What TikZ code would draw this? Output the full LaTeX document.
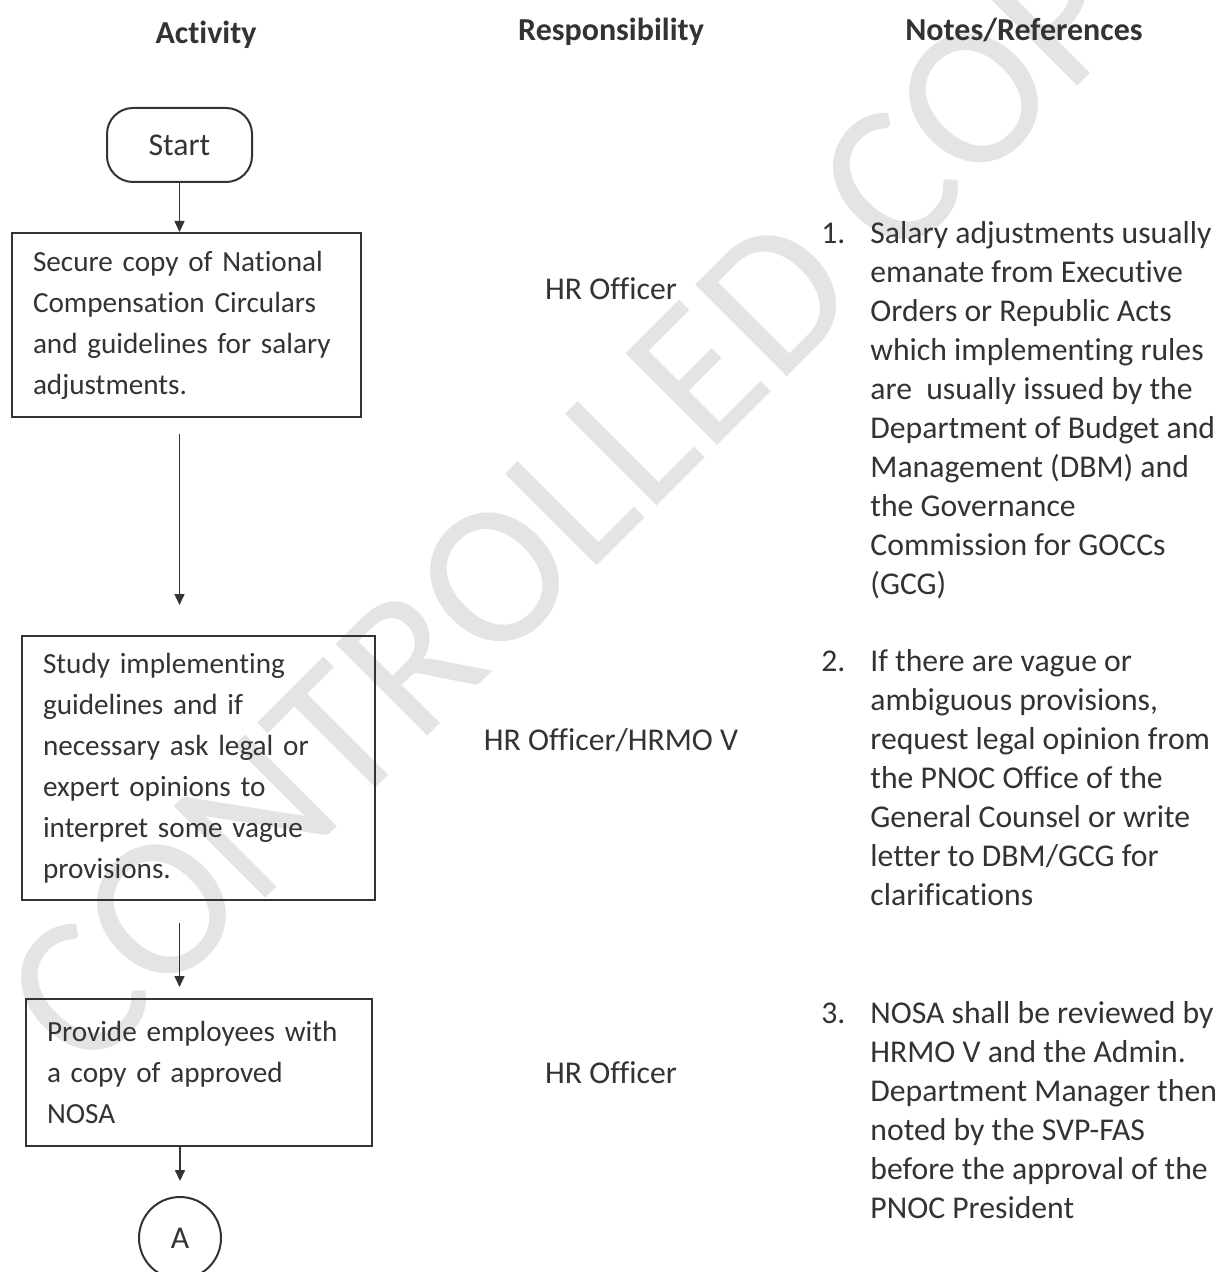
\documentclass[tikz,border=0pt]{standalone}
\usepackage{fontspec}
\setmainfont{Carlito}[Ligatures={NoCommon,NoContextual}]
\usetikzlibrary{arrows.meta,calc}
\definecolor{ink}{HTML}{333333}
\definecolor{wmgray}{HTML}{E4E4E4}
\begin{document}
\begin{tikzpicture}[x=0.5pt,y=-0.5pt,
  every node/.style={text=ink, inner sep=0pt},
  hdr/.style={font=\fontsize{16}{19.5}\selectfont\bfseries},
  resp/.style={font=\fontsize{15.85}{19.5}\selectfont},
  notes/.style={anchor=base west, font=\fontsize{15.85}{19.5}\selectfont},
  stepbox/.style={draw=ink, line width=1pt, align=left, inner xsep=10.5pt,
    inner ysep=0pt, font=\fontsize{14.6}{20.5}\selectfont},
  terminal/.style={draw=ink, line width=1pt, rounded corners=13pt,
    minimum width=72.5pt, minimum height=37pt, font=\fontsize{15.85}{19.5}\selectfont},
  connector/.style={draw=ink, line width=1pt, circle, minimum size=41pt,
    font=\fontsize{15.85}{19.5}\selectfont},
  arr/.style={draw=ink, line width=0.8pt, -{Triangle[length=5.5pt,width=5pt]}},
  watermark/.style={text=wmgray, font=\fontsize{101}{105}\selectfont}]

% page
\fill[white] (0,0) rectangle (1225,1272);
\useasboundingbox (0,0) rectangle (1225,1272);

% watermark behind everything
\node[watermark, rotate=45] (wmark) at (602,470) {CONTROLLED COPY};

% column headings
\node[hdr] (hact) at (206,35) {Activity};
\node[hdr] (hresp) at (611,32) {Responsibility};
\node[hdr] (hnotes) at (1024,30) {Notes/References};

% activity flow
\node[terminal] (start) at (179.5,145) {Start};
\node[stepbox, text width=153.5pt, minimum height=92pt] (s1) at (186.5,325)
  {Secure copy of National\\Compensation Circulars\\and guidelines for salary\\adjustments.};
\node[stepbox, text width=155.5pt, minimum height=132pt] (s2) at (198.5,768)
  {Study implementing\\guidelines and if\\necessary ask legal or\\expert opinions to\\interpret some vague\\provisions.};
\node[stepbox, text width=152pt, minimum height=73.5pt] (s3) at (199,1072.5)
  {Provide employees with\\a copy of approved\\NOSA};
\node[connector] (conA) at (180,1238) {A};

\draw[arr] (start.south) -- (start.south |- s1.north);
\draw[arr, shorten <=8pt, shorten >=15pt] (s1.south -| start.south) -- (s2.north -| start.south);
\draw[arr, shorten <=11pt, shorten >=5.5pt] (s2.south -| start.south) -- (s3.north -| start.south);
\draw[arr, shorten >=7.5pt] (s3.south -| conA.north) -- (conA.north);

% responsibility
\node[resp] (r1) at (611,289) {HR Officer};
\node[resp] (r2) at (611,740) {HR Officer/HRMO V};
\node[resp] (r3) at (611,1073) {HR Officer};

% notes
\node[notes] (n1) at (821,244) {\begin{tabular}[t]{@{}p{24.5pt}@{}l@{}}
1.&Salary adjustments usually\\
&emanate from Executive\\
&Orders or Republic Acts\\
&which implementing rules\\
&are\ \ usually issued by the\\
&Department of Budget and\\
&Management (DBM) and\\
&the Governance\\
&Commission for GOCCs\\
&(GCG)
\end{tabular}};
\node[notes] (n2) at (821,671) {\begin{tabular}[t]{@{}p{24.5pt}@{}l@{}}
2.&If there are vague or\\
&ambiguous provisions,\\
&request legal opinion from\\
&the PNOC Office of the\\
&General Counsel or write\\
&letter to DBM/GCG for\\
&clarifications
\end{tabular}};
\node[notes] (n3) at (821,1023) {\begin{tabular}[t]{@{}p{24.5pt}@{}l@{}}
3.&NOSA shall be reviewed by\\
&HRMO V and the Admin.\\
&Department Manager then\\
&noted by the SVP-FAS\\
&before the approval of the\\
&PNOC President
\end{tabular}};
\end{tikzpicture}
\end{document}
